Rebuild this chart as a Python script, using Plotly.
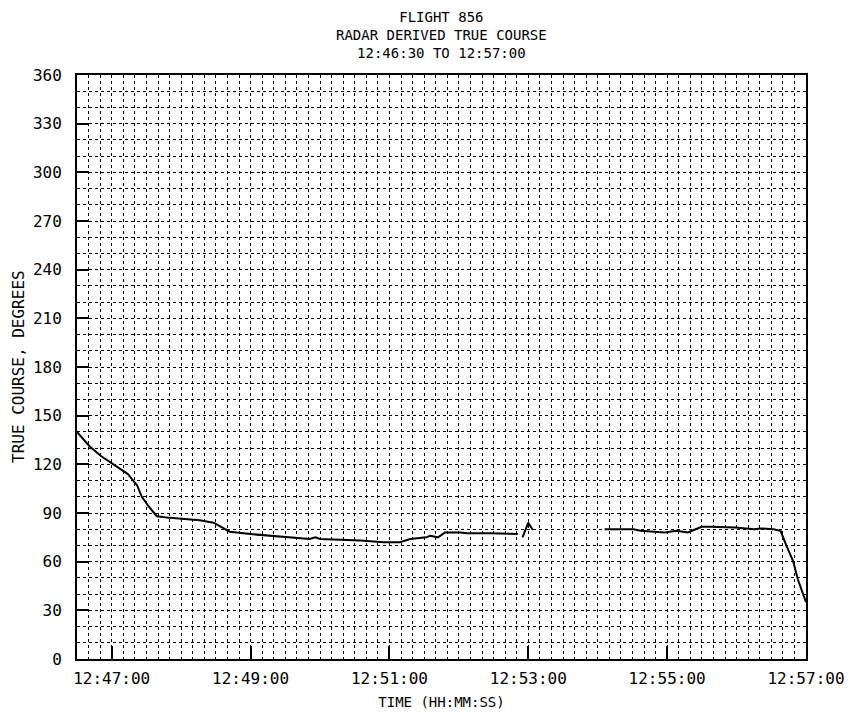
import plotly.graph_objects as go

# radar derived true course
seg1_time = ["12:46:30", "12:46:41", "12:46:51", "12:47:01", "12:47:14", "12:47:22",
             "12:47:26", "12:47:32", "12:47:39", "12:47:50", "12:48:08", "12:48:16",
             "12:48:28", "12:48:36", "12:48:42", "12:49:00", "12:49:28", "12:49:51",
             "12:49:56", "12:50:00", "12:50:35", "12:50:55", "12:51:09", "12:51:18",
             "12:51:32", "12:51:35", "12:51:42", "12:51:48", "12:52:01", "12:52:07",
             "12:52:27", "12:52:51"]
seg1_course = [140, 131, 125, 120, 114, 107,
               100, 94, 88, 87, 86, 85.5,
               84, 81, 78.5, 77, 75.5, 74,
               75, 74, 73, 72, 72, 74,
               75, 76, 75, 78, 78, 77.5,
               77.5, 77]

seg2_time = ["12:52:55", "12:53:00", "12:53:04"]
seg2_course = [75, 84, 79.5]

seg3_time = ["12:54:06", "12:54:31", "12:54:37", "12:54:58", "12:55:08", "12:55:18",
             "12:55:23", "12:55:30", "12:55:37", "12:55:59", "12:56:15", "12:56:21",
             "12:56:32", "12:56:38", "12:56:43", "12:56:49", "12:56:53", "12:56:59",
             "12:57:00"]
seg3_course = [80, 80, 79, 78, 79, 78,
               79.5, 81.5, 81.5, 81, 80, 80.5,
               80, 79, 70, 60, 49, 37,
               35]

x_labels = ["12:47:00", "12:49:00", "12:51:00", "12:53:00", "12:55:00", "12:57:00"]
y_ticks = [0, 30, 60, 90, 120, 150, 180, 210, 240, 270, 300, 330, 360]
start, end = "12:46:30", "12:57:00"


def secs(s):
    h, m, sec = map(int, s.split(":"))
    return h * 3600 + m * 60 + sec


xs, ys = [], []
for t, c in [(seg1_time, seg1_course), (seg2_time, seg2_course), (seg3_time, seg3_course)]:
    xs += [secs(v) for v in t] + [None]
    ys += c + [None]

font = "DejaVu Sans Mono"

fig = go.Figure()
fig.add_trace(go.Scatter(x=xs, y=ys, mode="lines", connectgaps=False,
                         line=dict(color="black", width=2), showlegend=False))

grid = dict(showgrid=True, gridcolor="black", gridwidth=1, griddash="dot")

fig.update_xaxes(range=[secs(start), secs(end)], automargin=False,
                 tickmode="array", tickvals=[secs(v) for v in x_labels], ticktext=x_labels,
                 ticks="inside", ticklen=13, tickwidth=2, tickcolor="black",
                 showline=True, linecolor="black", linewidth=2, mirror=True,
                 zeroline=False, ticklabelstandoff=4,
                 minor=dict(tickmode="linear", tick0=secs(start), dtick=10, **grid),
                 title=dict(text="TIME (HH:MM:SS)", font=dict(family=font, size=14, color="black"),
                            standoff=10),
                 tickfont=dict(family=font, size=16, color="black"), **grid)

fig.update_yaxes(range=[0, 360], tickmode="array", tickvals=y_ticks, automargin=False,
                 ticks="inside", ticklen=12, tickwidth=2, tickcolor="black",
                 showline=True, linecolor="black", linewidth=2, mirror=True,
                 zeroline=False, ticklabelstandoff=10,
                 minor=dict(tickmode="linear", tick0=0, dtick=10, **grid),
                 tickfont=dict(family=font, size=16, color="black"), **grid)

# page body adds an 8px offset, so the figure is laid out 8px smaller
W, H = 844, 705
L, T, R, B = 69, 67, 46, 54
plot_h = H - T - B
plot_w = W - L - R

fig.add_annotation(text="TRUE COURSE, DEGREES", textangle=-90, xref="paper", yref="paper",
                   x=(10 - L) / plot_w, y=0.5, xanchor="center", yanchor="middle",
                   showarrow=False, font=dict(family=font, size=16, color="black"))

title_lines = ["FLIGHT 856", "RADAR DERIVED TRUE COURSE", "12:46:30 TO 12:57:00"]
fig.add_annotation(text="<br>".join(title_lines), xref="paper", yref="paper", x=0.5,
                   y=1 + (T - 27) / plot_h, yanchor="middle", showarrow=False,
                   font=dict(family=font, size=14, color="black"))

fig.update_layout(width=W, height=H, margin=dict(l=L, r=R, t=T, b=B),
                  paper_bgcolor="white", plot_bgcolor="white")

fig.write_html("out.html")
